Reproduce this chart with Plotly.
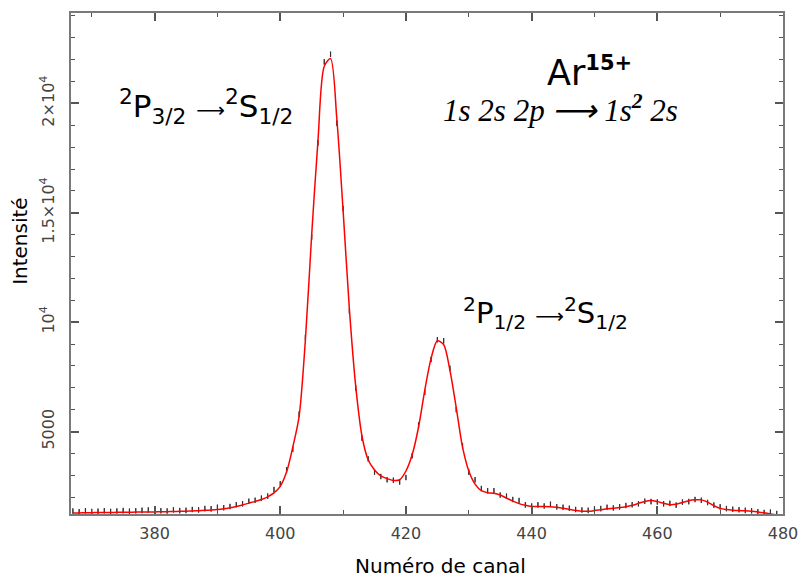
import plotly.graph_objects as go

# ---- data ----
channels = list(range(367, 480))

fit_curve = [
    1280, 1285, 1290, 1295, 1300, 1300, 1305, 1310, 1310, 1315,   # 367-376
    1320, 1320, 1325, 1330, 1335, 1340, 1350, 1355, 1365, 1375,   # 377-386
    1385, 1400, 1415, 1435, 1470, 1520, 1580, 1650, 1730, 1810,   # 387-396
    1900, 2020, 2200, 2500, 3150, 4300, 5700, 9200, 14000, 18300, # 397-406
    21700, 22050, 19300, 15100, 10600, 7100, 4800, 3700, 3250, 2980, # 407-416
    2850, 2770, 2800, 3200, 3950, 5200, 6900, 8350, 9150, 8980,   # 417-426
    7800, 6100, 4300, 3200, 2600, 2300, 2210, 2180, 2100, 1960,   # 427-436
    1820, 1710, 1630, 1580, 1580, 1580, 1570, 1540, 1500, 1450,   # 437-446
    1400, 1360, 1360, 1390, 1430, 1470, 1500, 1530, 1570, 1630,   # 447-456
    1720, 1810, 1850, 1800, 1720, 1660, 1680, 1760, 1840, 1880,   # 457-466
    1880, 1780, 1620, 1490, 1440, 1410, 1390, 1380, 1360, 1330,   # 467-476
    1290, 1240, 1190,                                             # 477-479
]

measured = [
    1370, 1340, 1380, 1350, 1360, 1380, 1350, 1370, 1390, 1360,
    1380, 1400, 1420, 1360, 1380, 1370, 1420, 1390, 1400, 1440,
    1420, 1480, 1470, 1540, 1520, 1580, 1660, 1700, 1820, 1860,
    1960, 2050, 2350, 2620, 3250, 4200, 5800, 9300, 13900, 18200,
    21900, 22250, 19100, 15200, 10500, 7000, 4700, 3750, 3150, 2950,
    2800, 2780, 2700, 2900, 3900, 5300, 6800, 8300, 9200, 9150,
    7900, 6000, 4350, 3150, 2800, 2400, 2300, 2300, 2100, 2050,
    1900, 1850, 1650, 1600, 1650, 1600, 1680, 1560, 1540, 1500,
    1440, 1420, 1400, 1460, 1480, 1540, 1510, 1560, 1620, 1660,
    1700, 1820, 1800, 1780, 1700, 1720, 1640, 1780, 1800, 1900,
    1860, 1760, 1640, 1560, 1480, 1450, 1430, 1400, 1380, 1340,
    1300, 1320, 1260,
]

x_range = [366.7, 480]
y_range = [1234, 24136]
y_tickvals = [5000, 10000, 15000, 20000]
y_ticktext = ["5000", "10<sup>4</sup>", "1.5×10<sup>4</sup>", "2×10<sup>4</sup>"]
x_tickvals = [380, 400, 420, 440, 460, 480]

FONT = "DejaVu Sans"
AXIS_COLOR = "#7a7a7a"

L, R, T, B = 71, 792, 11, 513.7
W, H = 809, 579

fig = go.Figure()

fig.add_trace(go.Scatter(
    x=channels, y=measured, mode="markers",
    marker=dict(symbol="line-ns-open", size=4, color="#333333",
                line=dict(width=1.2, color="#333333")),
    error_y=dict(type="constant", value=110, color="#555555", thickness=1, width=0),
    showlegend=False, hoverinfo="skip",
))

fig.add_trace(go.Scatter(
    x=channels, y=fit_curve, mode="lines",
    line=dict(color="#ff0000", width=1.5, shape="spline", smoothing=0.8),
    showlegend=False, hoverinfo="skip",
))

fig.update_layout(
    width=W, height=H,
    margin=dict(l=L, r=W - R, t=T, b=H - B),
    paper_bgcolor="white", plot_bgcolor="white",
    font=dict(family=FONT, color="#000000"),
    showlegend=False,
)

fig.update_xaxes(
    range=x_range, tickvals=x_tickvals,
    showgrid=False, zeroline=False,
    showline=True, linecolor=AXIS_COLOR, linewidth=2, mirror="ticks",
    ticks="inside", ticklen=8, tickwidth=1.5, tickcolor="#555555",
    minor=dict(dtick=10, tick0=0, ticks="inside", ticklen=4, tickwidth=1, tickcolor="#555555"),
    tickfont=dict(family=FONT, size=16, color="#444444"),
    ticklabelstandoff=4,
)

fig.update_yaxes(
    range=y_range, tickvals=y_tickvals, ticktext=y_ticktext, tickangle=-90,
    showgrid=False, zeroline=False,
    showline=True, linecolor=AXIS_COLOR, linewidth=2, mirror="ticks",
    ticks="inside", ticklen=8, tickwidth=1.5, tickcolor="#555555",
    minor=dict(dtick=1000, tick0=0, ticks="inside", ticklen=4, tickwidth=1, tickcolor="#555555"),
    tickfont=dict(family=FONT, size=16, color="#444444"),
    ticklabelstandoff=9,
)

ARROW = "<span style='font-size:20px'>⟶</span>"
annotations = [
    dict(x=208, y=105, angle=0,
         text="<sup>2</sup>P<sub>3/2</sub> " + ARROW + "<sup>2</sup>S<sub>1/2</sub>",
         font=dict(family=FONT, size=31, color="#000000")),
    dict(x=552, y=312, angle=0,
         text="<sup>2</sup>P<sub>1/2</sub> " + ARROW + "<sup>2</sup>S<sub>1/2</sub>",
         font=dict(family=FONT, size=29, color="#000000")),
    dict(x=596, y=70, angle=0,
         text="Ar<sup><b><span style='font-size:21px'>15+</span></b></sup>",
         font=dict(family=FONT, size=35, color="#000000")),
    dict(x=567, y=107, angle=0,
         text="<i>1s 2s 2p ⟶ 1s<sup><b>2</b></sup> 2s</i>",
         font=dict(family="Liberation Serif", size=31, color="#000000")),
    dict(x=20, y=240, angle=-90, text="Intensité",
         font=dict(family=FONT, size=20, color="#000000")),
    dict(x=445, y=566, angle=0, text="Numéro de canal",
         font=dict(family=FONT, size=20, color="#000000")),
]
for a in annotations:
    fig.add_annotation(xref="paper", yref="paper",
                       x=(a["x"] - L) / (R - L), y=1 - (a["y"] - T) / (B - T),
                       text=a["text"], font=a["font"], showarrow=False,
                       textangle=a["angle"], xanchor="center", yanchor="middle")

fig.write_html(
    "out.html",
    config={"displayModeBar": False},
    post_script="document.body.style.margin='0px';document.body.style.overflow='hidden';",
)
